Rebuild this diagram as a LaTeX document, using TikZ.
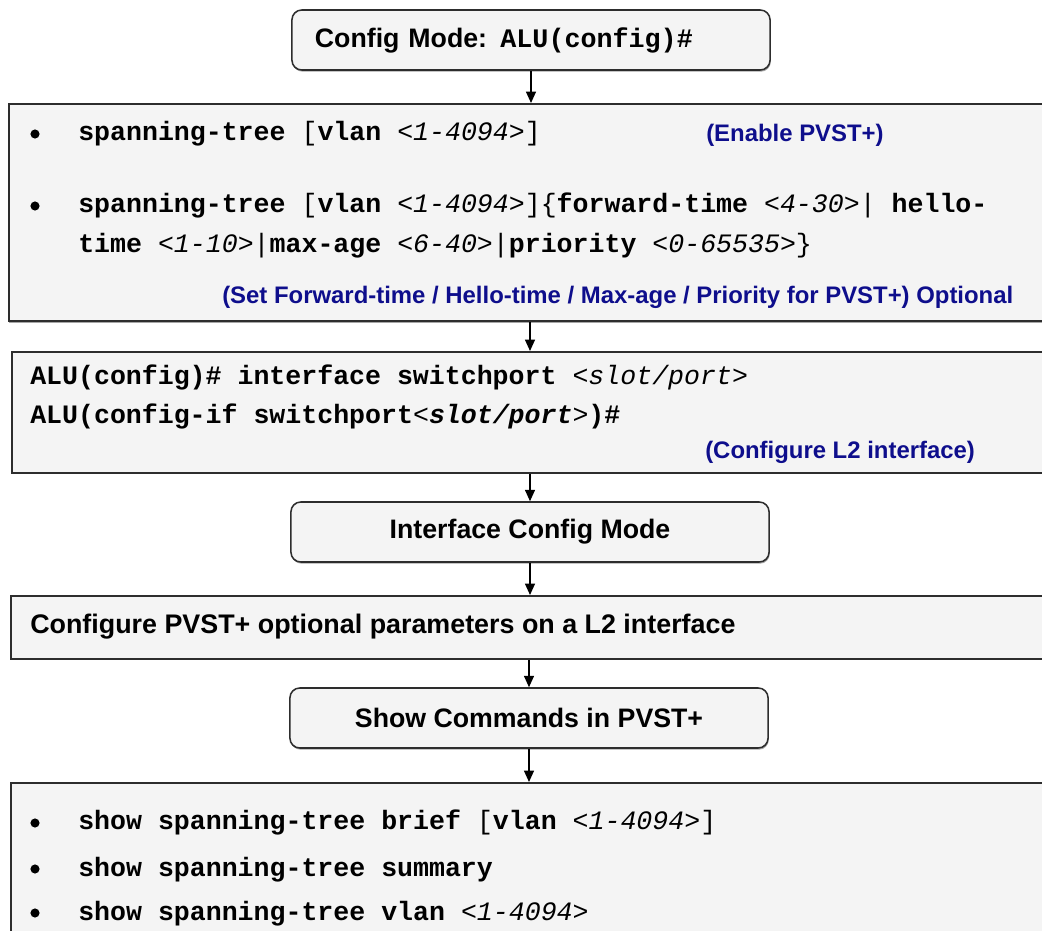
\documentclass[tikz,border=0pt]{standalone}
\usepackage{fontspec}
\setmainfont{Liberation Sans}
\setmonofont{Liberation Mono}
\usepackage{tikz}
\usetikzlibrary{arrows.meta, shadows}
\definecolor{notegray}{RGB}{244, 244, 244}
\definecolor{edgegray}{RGB}{45, 45, 45}
\definecolor{noteblue}{RGB}{14, 14, 140}

\newcommand{\kwd}[1]{{\ttfamily\bfseries #1}}
\newcommand{\prm}[1]{{\ttfamily\mdseries\itshape #1}}
\newcommand{\lit}[1]{{\ttfamily\mdseries\upshape #1}}

\begin{document}
\begin{tikzpicture}[
  x=0.025cm, y=-0.025cm,
  modebox/.style={draw=edgegray, fill=notegray, rounded corners=7pt, line width=1.1pt, minimum width=11.95cm, minimum height=1.5cm, align=center, font=\fontsize{19}{22}\selectfont\bfseries, drop shadow={shadow xshift=0.5pt, shadow yshift=-1.2pt, fill=black!35, opacity=1}},
  cmdbox/.style={draw=edgegray, fill=notegray, line width=1.1pt, anchor=north west, minimum width=26.3cm, inner sep=0pt, drop shadow={shadow xshift=0pt, shadow yshift=-1.2pt, fill=black!35, opacity=1}},
  cmdline/.style={anchor=base west, inner sep=0pt, font=\fontsize{18.9}{22}\selectfont\ttfamily\bfseries},
  plainline/.style={anchor=base west, inner sep=0pt, font=\fontsize{19.1}{22}\selectfont\bfseries},
  note/.style={anchor=base west, inner sep=0pt, text=noteblue, font=\fontsize{17}{20}\selectfont\bfseries},
  dot/.style={circle, fill=black, inner sep=0pt, minimum size=6.5pt},
  arrow/.style={-{Triangle[length=8pt, width=7pt]}, line width=1pt, black}
]
\useasboundingbox (0,0) rectangle (1042,931);
\clip (0,0) rectangle (1042,931);

% Config mode
\node[modebox, align=left, text width=10.8cm, inner xsep=0.575cm] (cfg) at (531,40) {Config Mode: \kwd{ALU(config)\#}};

% PVST+ enable
\node[cmdbox, minimum height=5.425cm] (spt) at (8,103) {};
\node[dot] (sptd1) at (35,134) {};
\node[dot] (sptd2) at (35,206) {};
\node[cmdline] (spt1) at (78,141) {spanning-tree \lit{[}vlan \prm{<1-4094>}\lit{]}};
\node[cmdline] (spt2) at (78,213) {spanning-tree \lit{[}vlan \prm{<1-4094>}\lit{]\{}forward-time \prm{<4-30>}\lit{|} hello-};
\node[cmdline] (spt3) at (78,253) {time \prm{<1-10>}\lit{|}max-age \prm{<6-40>}\lit{|}priority \prm{<0-65535>}\lit{\}}};
\node[note] (sptn1) at (706,142) {(Enable PVST+)};
\node[note] (sptn2) at (222,304) {(Set Forward-time / Hello-time / Max-age / Priority for PVST+) Optional};

% L2 interface
\node[cmdbox, minimum height=3.025cm] (intf) at (11,351) {};
\node[cmdline] (intf1) at (30,385) {ALU(config)\# interface switchport \prm{<slot/port>}};
\node[cmdline] (intf2) at (30,424) {ALU(config-if switchport\prm{<}{\itshape slot/port}\prm{>})\#};
\node[note] (intfn) at (705,459) {(Configure L2 interface)};

% Interface config mode
\node[modebox] (icm) at (530,532) {Interface Config Mode};

\node[cmdbox, minimum height=1.575cm] (opt) at (10,595) {};
\node[plainline] (opt1) at (30,634) {Configure PVST+ optional parameters on a L2 interface};

% Show commands
\node[modebox] (shw) at (529,718) {Show Commands in PVST+};

\node[cmdbox, minimum height=4.5cm] (lst) at (10,782) {};
\node[dot] (lstd1) at (35,823) {};
\node[dot] (lstd2) at (35,869) {};
\node[dot] (lstd3) at (35,913) {};
\node[cmdline] (lst1) at (78,830) {show spanning-tree brief \lit{[}vlan \prm{<1-4094>}\lit{]}};
\node[cmdline] (lst2) at (78,876) {show spanning-tree summary};
\node[cmdline] (lst3) at (78,920) {show spanning-tree vlan \prm{<1-4094>}};

\draw[arrow] (cfg.south) -- (cfg.south |- spt.north);
\draw[arrow] (icm.north |- spt.south) -- (icm.north |- intf.north);
\draw[arrow] (icm.north |- intf.south) -- (icm.north);
\draw[arrow] (icm.south) -- (icm.south |- opt.north);
\draw[arrow] (shw.north |- opt.south) -- (shw.north);
\draw[arrow] (shw.south) -- (shw.south |- lst.north);

\end{tikzpicture}
\end{document}
